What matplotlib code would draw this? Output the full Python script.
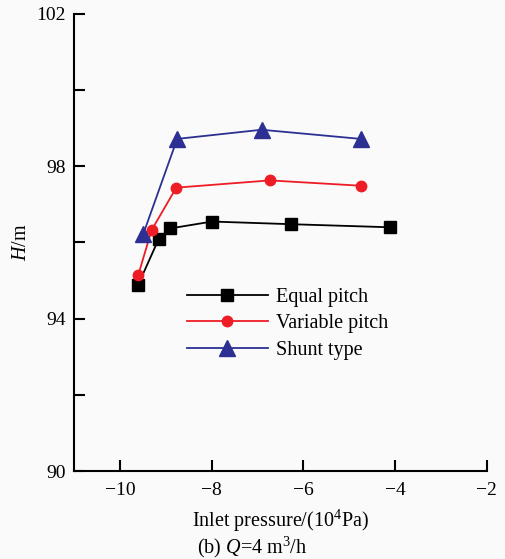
import matplotlib
matplotlib.use("Agg")
import matplotlib.pyplot as plt

# data
equal_x = [-9.60, -9.15, -8.90, -7.99, -6.26, -4.12]
equal_h = [94.89, 96.10, 96.37, 96.55, 96.48, 96.40]

variable_x = [-9.60, -9.31, -8.77, -6.73, -4.74]
variable_h = [95.14, 96.32, 97.44, 97.63, 97.49]

shunt_x = [-9.49, -8.75, -6.91, -4.75]
shunt_h = [96.22, 98.72, 98.96, 98.72]

x_ticks = [-10, -8, -6, -4, -2]
y_ticks = [90, 92, 94, 96, 98, 100, 102]
y_labels = ["90", "", "94", "", "98", "", "102"]

plt.rcParams['font.family'] = ['Liberation Serif', 'DejaVu Serif']
plt.rcParams['mathtext.fontset'] = 'custom'
plt.rcParams['mathtext.rm'] = 'Liberation Serif'
plt.rcParams['mathtext.it'] = 'Liberation Serif:italic'

fig = plt.figure(figsize=(5.05, 5.59), dpi=100)
fig.patch.set_facecolor('#fafafa')
ax = fig.add_axes([0.1465, 0.1574, 0.8175, 0.8176])
ax.set_facecolor('#fafafa')

ax.plot(equal_x, equal_h, color='black', lw=1.3, marker='s', ms=8.5,
        label='Equal pitch')
ax.plot(variable_x, variable_h, color='#ee1c25', lw=1.3, marker='o', ms=7.5,
        label='Variable pitch')
ax.plot(shunt_x, shunt_h, color='#2b3092', lw=1.3, marker='^', ms=11,
        label='Shunt type')

ax.set_xlim(-11, -2)
ax.set_ylim(90, 102)
ax.set_xticks(x_ticks)
ax.set_xticklabels([f"\u2212{abs(t)}" for t in x_ticks])
ax.set_yticks(y_ticks)
ax.set_yticklabels(y_labels)
ax.tick_params(direction='in', length=8, width=1.5, labelsize=14)
ax.tick_params(axis='x', pad=8)
ax.tick_params(axis='y', pad=6)

for side in ['top', 'right']:
    ax.spines[side].set_visible(False)
for side in ['left', 'bottom']:
    ax.spines[side].set_linewidth(1.5)

ax.set_ylabel(r'$\mathit{H}$/m', fontsize=14.5, labelpad=4)
ax.set_xlabel('Inlet pressure/(10$^4$Pa)', fontsize=14.5, labelpad=6)
fig.text(0.5, 0.02, r'(b) $\mathit{Q}$=4 m$^3$/h', ha='center', va='center',
         fontsize=14.5)

ax.legend(loc='upper left', bbox_to_anchor=(0.23, 0.44), frameon=False,
          fontsize=14.5, handlelength=4.0, handletextpad=0.4,
          labelspacing=0.36)

fig.savefig('out.png', dpi=100, facecolor=fig.get_facecolor())
